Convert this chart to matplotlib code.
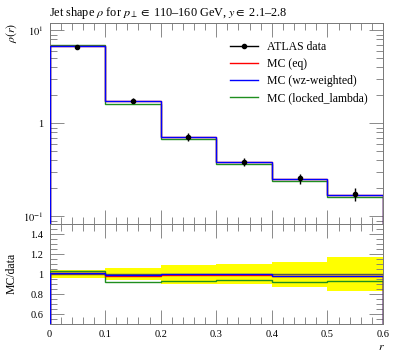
import numpy as np
import matplotlib
matplotlib.use("Agg")
import matplotlib.pyplot as plt
from matplotlib.lines import Line2D
from matplotlib.ticker import MultipleLocator, FixedLocator, NullFormatter, LogLocator

# ---- data ----
edges = [0.0, 0.1, 0.2, 0.3, 0.4, 0.5, 0.6]
r_centers = [0.05, 0.15, 0.25, 0.35, 0.45, 0.55]
data_rho = [6.66, 1.75, 0.718, 0.386, 0.256, 0.174]
data_relerr = [0.04, 0.063, 0.095, 0.10, 0.125, 0.17]
mc_eq = [6.73, 1.72, 0.711, 0.382, 0.250, 0.170]
mc_wz = [6.73, 1.73, 0.718, 0.386, 0.252, 0.170]
mc_locked = [6.89, 1.62, 0.670, 0.364, 0.237, 0.162]

x_ticks = [0.0, 0.1, 0.2, 0.3, 0.4, 0.5, 0.6]
x_ticklabels = ['0', '0.1', '0.2', '0.3', '0.4', '0.5', '0.6']
ratio_ticks = [0.6, 0.8, 1.0, 1.2, 1.4]
ratio_ticklabels = ['0.6', '0.8', '1', '1.2', '1.4']

labels = ["ATLAS data", "MC (eq)", "MC (wz-weighted)", "MC (locked_lambda)"]
colors = ["black", "red", "blue", "#1f8f1f"]

plt.rcParams['font.family'] = ['Liberation Serif', 'DejaVu Serif']
plt.rcParams['mathtext.fontset'] = 'stix'

W, H = 397, 358
fig = plt.figure(figsize=(W / 100, H / 100), dpi=100)
L, R = 49.5 / W, 383 / W
ax = fig.add_axes([L, 1 - 224.3 / H, R - L, (224.3 - 23.3) / H])
axr = fig.add_axes([L, 1 - 324 / H, R - L, (324 - 224.3) / H])

data_rho = np.array(data_rho)
data_err = data_rho * np.array(data_relerr)

mcs = [mc_eq, mc_wz, mc_locked]
z = [3, 4, 2]
for vals, c, lab, zz in zip(mcs, colors[1:], labels[1:], z):
    ax.stairs(vals, edges, color=c, lw=1.0, zorder=zz)
ax.errorbar(r_centers, data_rho, yerr=data_err, fmt='o', color='black',
            ms=3, lw=1.0, capsize=0, zorder=6)

ax.set_yscale('log')
ax.set_xlim(0, 0.6)
ax.set_ylim(0.082, 11.9)
ax.yaxis.set_major_locator(FixedLocator([0.1, 1, 10]))
ax.set_yticklabels([r'$10^{-1}$', '1', r'$10^{1}$'])
ax.yaxis.set_minor_locator(LogLocator(base=10, subs=np.arange(2, 10)))
ax.yaxis.set_minor_formatter(NullFormatter())
ax.xaxis.set_major_locator(FixedLocator(x_ticks))
ax.xaxis.set_minor_locator(MultipleLocator(0.02))
ax.xaxis.set_major_formatter(NullFormatter())

# legend
handles = [Line2D([], [], color=colors[0], marker='o', ms=3, lw=1.0)]
handles += [Line2D([], [], color=c, lw=1.0) for c in colors[1:]]
leg = ax.legend(handles, labels,
                loc='upper left', bbox_to_anchor=(0.527, 0.935), frameon=False,
                fontsize=8.5, handlelength=2.4, handletextpad=0.7,
                labelspacing=0.42, borderaxespad=0)

# ratio panel
rel = np.array(data_relerr)
e = np.array(edges)
axr.stairs(1 + rel, e, baseline=1 - rel, fill=True, color='#ffff00', lw=0, zorder=1)
axr.stairs(np.ones(len(data_rho)), e, color='#555555', lw=1.0, zorder=2)
for vals, c, zz in zip(mcs, colors[1:], z):
    axr.stairs(np.array(vals) / data_rho, e, color=c, lw=1.0, zorder=zz + 1)
axr.set_xlim(0, 0.6)
axr.set_ylim(0.5, 1.5)
axr.yaxis.set_major_locator(FixedLocator(ratio_ticks))
axr.set_yticklabels(ratio_ticklabels)
axr.yaxis.set_minor_locator(MultipleLocator(0.05))
axr.xaxis.set_major_locator(FixedLocator(x_ticks))
axr.xaxis.set_minor_locator(MultipleLocator(0.02))
axr.set_xticklabels(x_ticklabels)

for a in (ax, axr):
    a.tick_params(which='both', direction='in', top=True, right=True,
                  labelsize=7.5, color='#777777', width=0.6)
    a.tick_params(which='major', length=10, pad=4.5)
    a.tick_params(which='minor', length=5)
    for s in a.spines.values():
        s.set_color('#777777')
        s.set_linewidth(0.7)

fig.text(49 / W, 1 - 13 / H,
         r'Jet shape $\rho$ for $p_\perp \in$ 110–160 GeV, $y \in$ 2.1–2.8',
         fontsize=8.8, ha='left', va='center')
fig.text(12 / W, 1 - 23 / H, r'$\rho(r)$', rotation=90, ha='center', va='top', fontsize=8.5)
fig.text(12 / W, 1 - 273 / H, 'MC/data', rotation=90, ha='center', va='center', fontsize=8.5)
fig.text(381 / W, 1 - 347 / H, r'$r$', ha='center', va='center', fontsize=8.5)

fig.savefig('out.png', dpi=100)
